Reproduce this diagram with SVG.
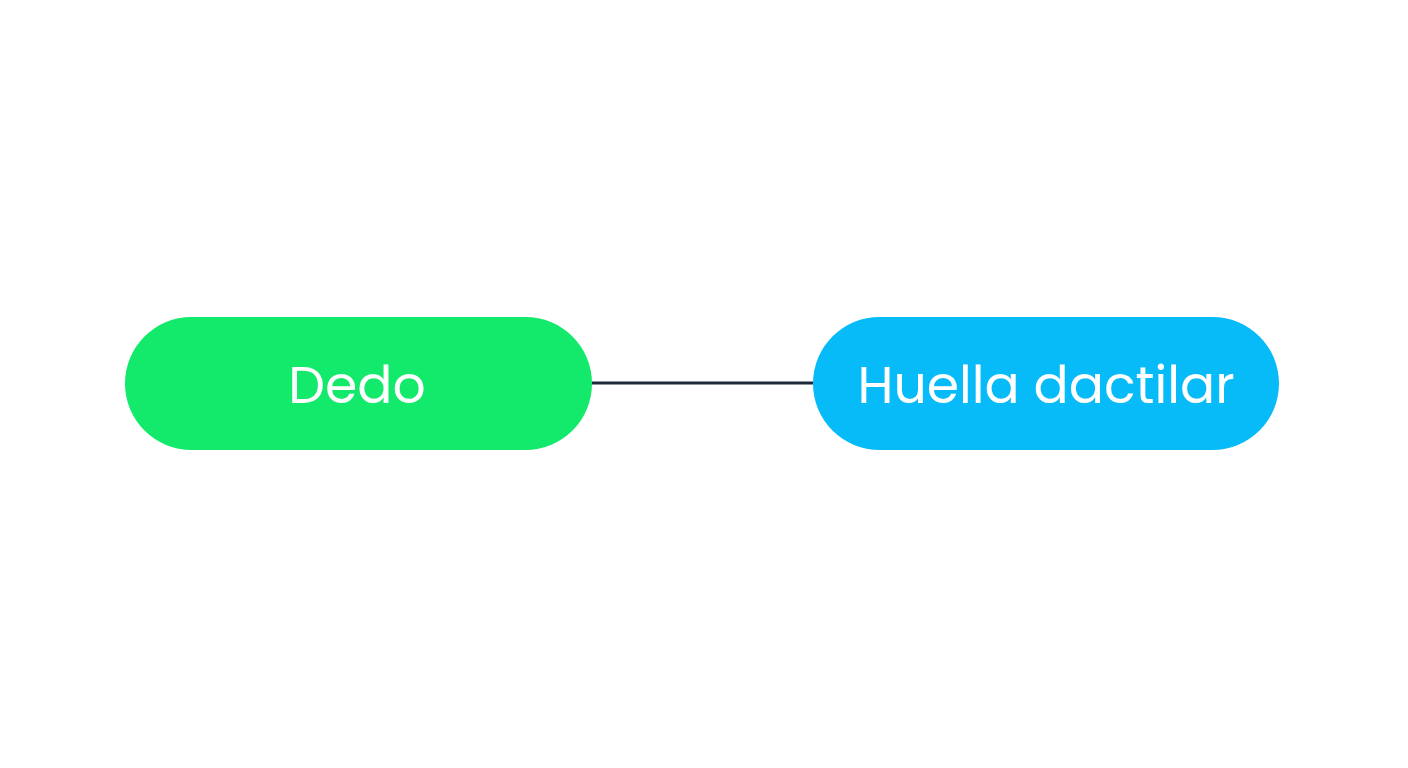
<svg xmlns="http://www.w3.org/2000/svg" width="1408" height="768" viewBox="0 0 1408 768">
<style>
.label{font-family:"Poppins","Inter","Noto Sans",sans-serif;font-size:52px;fill:#ffffff;text-anchor:middle;dominant-baseline:alphabetic}
.conn{stroke:#1e2a3a;stroke-width:3;fill:none}
</style>
<rect width="1408" height="768" fill="#ffffff"/>
<g id="connectors">
<line class="conn" x1="592" y1="383" x2="813" y2="383"/>
</g>
<g id="node-dedo">
<rect x="125" y="317" width="467" height="133" rx="66.5" fill="#13e96a"/>
<text class="label" x="357" y="403">Dedo</text>
</g>
<g id="node-huella">
<rect x="813" y="317" width="466" height="133" rx="66.5" fill="#07bbf8"/>
<text class="label" x="1046" y="403">Huella dactilar</text>
</g>
</svg>
